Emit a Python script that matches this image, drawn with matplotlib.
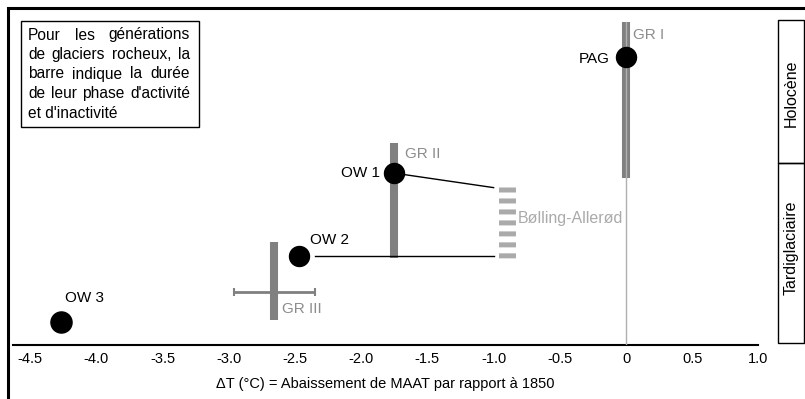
import matplotlib.pyplot as plt
from matplotlib.patches import Rectangle

plt.rcParams['font.family'] = ['Liberation Sans', 'DejaVu Sans']
plt.rcParams['lines.scale_dashes'] = False

# rock glacier generations (activity bars)
gr_names = ["GR I", "GR II", "GR III"]
gr_x = [0.0, -1.75, -2.66]
gr_top = [95.8, 59.9, 30.7]
gr_bottom = [49.6, 25.8, 7.4]
gr_label_x = [0.05, -1.67, -2.60]
gr_label_y = [92.0, 56.7, 10.7]

# stages
pt_names = ["PAG", "OW 1", "OW 2", "OW 3"]
pt_x = [0.0, -1.75, -2.47, -4.27]
pt_y = [85.5, 51.0, 26.4, 6.9]
pt_label_x = [-0.12, -1.86, -2.39, -4.24]
pt_label_y = [84.9, 51.1, 31.2, 13.9]
pt_label_ha = ["right", "right", "left", "left"]

# Bolling-Allerod interval
ba_x = -0.9
ba_y = [46.9, 25.8]
ba_link_x = [-1.75, -1.0]
ba_link_y = [51.0, 46.7]
ow2_link_x = [-2.35, -1.0]
ow2_link_y = [26.4, 26.4]

# GR III temperature range
gr3_dt = -2.655
gr3_err = 0.305
gr3_y = 15.7

ticks = [-4.5, -4.0, -3.5, -3.0, -2.5, -2.0, -1.5, -1.0, -0.5, 0, 0.5, 1.0]
tick_labels = ["-4.5", "-4.0", "-3.5", "-3.0", "-2.5", "-2.0", "-1.5", "-1.0", "-0.5", "0", "0.5", "1.0"]

box_lines = ["Pour les générations", "de glaciers rocheux, la", "barre indique la durée",
             "de leur phase d'activité", "et d'inactivité"]

W, H = 805, 399
fig = plt.figure(figsize=(W / 100, H / 100), dpi=100)
ax = fig.add_axes([13 / W, (H - 345) / H, 745.4 / W, 337 / H])
ax.set_xlim(-4.63, 1.0)
ax.set_ylim(0, 100)

dark = "#808080"
light = "#aaaaaa"

# zero line
ax.plot([0, 0], [0, gr_top[0]], color="#b0b0b0", lw=1, zorder=3)

# bars
ax.vlines(gr_x, gr_bottom, gr_top, color=dark, lw=5.8, zorder=2)
for name, lx, ly in zip(gr_names, gr_label_x, gr_label_y):
    ax.text(lx, ly, name, color="#8c8c8c", fontsize=11, ha="left", va="center")

# GR III range
ax.errorbar(gr3_dt, gr3_y, xerr=gr3_err, fmt="none", ecolor=dark, elinewidth=2,
            capsize=3, capthick=1.5, zorder=2)

# links
ax.plot(ba_link_x, ba_link_y, color="black", lw=1, zorder=3)
ax.plot(ow2_link_x, ow2_link_y, color="black", lw=1, zorder=3)

# Bolling-Allerod
ax.plot([ba_x, ba_x], ba_y, color=light, lw=12.2, linestyle=(0, (3.6, 4.3)),
        solid_capstyle="butt", dash_capstyle="butt", zorder=2)
ax.text(-0.816, 37.4, "Bølling-Allerød", color=light, fontsize=11.5, ha="left", va="center")

# points
ax.plot(pt_x[:3], pt_y[:3], "o", color="black", ms=14.4, zorder=4)
ax.plot(pt_x[3:], pt_y[3:], "o", color="black", ms=15.2, zorder=4)
for name, lx, ly, ha in zip(pt_names, pt_label_x, pt_label_y, pt_label_ha):
    ax.text(lx, ly, name, color="black", fontsize=11, ha=ha, va="center")

# axis
for s in ["top", "left", "right"]:
    ax.spines[s].set_visible(False)
ax.spines["bottom"].set_linewidth(1.5)
ax.set_yticks([])
ax.set_xticks(ticks)
ax.set_xticklabels(tick_labels, fontsize=10.5)
ax.tick_params(axis="x", length=0, pad=5)
ax.set_xlabel("ΔT (°C) = Abaissement de MAAT par rapport à 1850", fontsize=10.5, labelpad=8)

# outer frame
fig.patches.append(Rectangle((8 / W, -0.1), 1.2, (H - 8) / H + 0.1, transform=fig.transFigure,
                             fill=False, lw=2.2, ec="black"))

# period boxes
fig.patches.append(Rectangle((778 / W, (H - 163) / H), 26 / W, 143 / H, transform=fig.transFigure,
                             fill=False, lw=1, ec="black"))
fig.patches.append(Rectangle((778 / W, (H - 343) / H), 26 / W, 180 / H, transform=fig.transFigure,
                             fill=False, lw=1, ec="black"))
fig.text(791 / W, 1 - 93 / H, "Holocène", rotation=90, ha="center", va="center", fontsize=11.5)
fig.text(791 / W, 1 - 248 / H, "Tardiglaciaire", rotation=90, ha="center", va="center", fontsize=11.5)

# note box, justified text
fig.patches.append(Rectangle((20.5 / W, 1 - 126.5 / H), 178.5 / W, 106 / H, transform=fig.transFigure,
                             fill=False, lw=1, ec="black"))
fig.canvas.draw()
renderer = fig.canvas.get_renderer()
x0, x1 = 28, 190
fs = 11.2
for i, line in enumerate(box_lines):
    yy = 1 - (35 + 19.5 * i) / H
    words = line.split()
    if i == len(box_lines) - 1:
        fig.text(x0 / W, yy, line, fontsize=fs, ha="left", va="center")
        continue
    arts = [fig.text(0, yy, w, fontsize=fs, ha="left", va="center") for w in words]
    widths = [a.get_window_extent(renderer).width for a in arts]
    gap = (x1 - x0 - sum(widths)) / (len(words) - 1)
    pos = x0
    for a, wd in zip(arts, widths):
        a.set_x(pos / W)
        pos += wd + gap

fig.savefig("out.png", dpi=100)
